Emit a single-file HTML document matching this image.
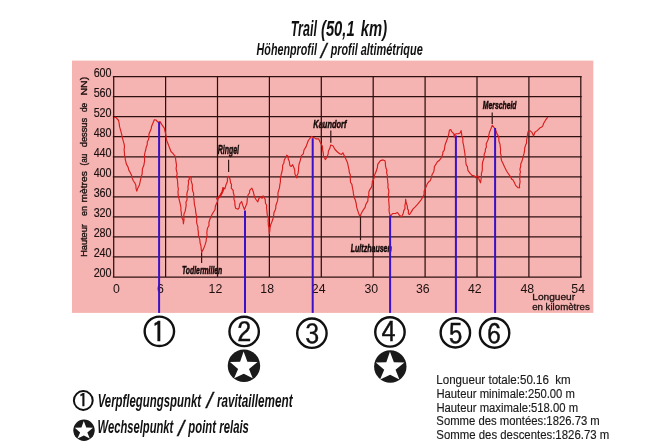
<!DOCTYPE html>
<html><head><meta charset="utf-8"><title>Trail (50,1 km)</title>
<style>
html,body{margin:0;padding:0;background:#fff;width:660px;height:446px;overflow:hidden}
svg{display:block}
.ax{font-family:"Liberation Sans",Arial,sans-serif;font-size:12px;fill:#1e1010}
.yl text{font-size:12.8px;stroke:#1e1010;stroke-width:0.15px}
.cd{font-family:"IPAGothic","Liberation Sans",sans-serif;font-size:28px;fill:#111;stroke:#111;stroke-width:0.45px}
</style></head><body>
<svg width="660" height="446" viewBox="0 0 660 446">
<rect x="0" y="0" width="660" height="446" fill="#fff"/>
<text x="290.67" y="35.60" style="font-family:'Liberation Sans',Arial,sans-serif;font-style:italic;font-weight:bold;fill:#111;font-size:21.6px" textLength="26.29" lengthAdjust="spacingAndGlyphs">Trail</text>
<text x="320.97" y="35.60" style="font-family:'Liberation Sans',Arial,sans-serif;font-style:italic;font-weight:bold;fill:#111;font-size:21.6px" textLength="33.70" lengthAdjust="spacingAndGlyphs">(50,1</text>
<text x="360.85" y="35.60" style="font-family:'Liberation Sans',Arial,sans-serif;font-style:italic;font-weight:bold;fill:#111;font-size:21.6px" textLength="26.26" lengthAdjust="spacingAndGlyphs">km)</text>
<text x="256.59" y="55.10" style="font-family:'Liberation Sans',Arial,sans-serif;font-style:italic;font-weight:bold;fill:#111;font-size:17.2px" textLength="60.31" lengthAdjust="spacingAndGlyphs">Höhenprofil</text>
<text x="320.85" y="57.53" style="font-family:'Liberation Sans',Arial,sans-serif;font-style:italic;font-weight:normal;fill:#111;stroke:#111;stroke-width:0.3px;font-size:20.5px">/</text>
<text x="330.68" y="55.10" style="font-family:'Liberation Sans',Arial,sans-serif;font-style:italic;font-weight:bold;fill:#111;font-size:17.2px" textLength="26.96" lengthAdjust="spacingAndGlyphs">profil</text>
<text x="360.73" y="55.10" style="font-family:'Liberation Sans',Arial,sans-serif;font-style:italic;font-weight:bold;fill:#111;font-size:17.2px" textLength="62.00" lengthAdjust="spacingAndGlyphs">altimétrique</text>
<rect x="72" y="60.6" width="521.3" height="252.3" fill="#f5b4b2"/>
<text x="217.74" y="153.90" style="font-family:'Liberation Sans',Arial,sans-serif;font-style:italic;font-weight:bold;fill:#140808;stroke:#140808;stroke-width:0.5px;font-size:12.5px" textLength="21.33" lengthAdjust="spacingAndGlyphs">Ringel</text>
<text x="313.36" y="127.70" style="font-family:'Liberation Sans',Arial,sans-serif;font-style:italic;font-weight:bold;fill:#140808;stroke:#140808;stroke-width:0.5px;font-size:11.5px" textLength="33.05" lengthAdjust="spacingAndGlyphs">Kaundorf</text>
<text x="181.96" y="273.80" style="font-family:'Liberation Sans',Arial,sans-serif;font-style:italic;font-weight:bold;fill:#140808;stroke:#140808;stroke-width:0.5px;font-size:11.5px" textLength="40.30" lengthAdjust="spacingAndGlyphs">Todlermillen</text>
<text x="350.76" y="252.00" style="font-family:'Liberation Sans',Arial,sans-serif;font-style:italic;font-weight:bold;fill:#140808;stroke:#140808;stroke-width:0.5px;font-size:11.8px" textLength="41.09" lengthAdjust="spacingAndGlyphs">Lultzhausen</text>
<text x="482.87" y="108.70" style="font-family:'Liberation Sans',Arial,sans-serif;font-style:italic;font-weight:bold;fill:#140808;stroke:#140808;stroke-width:0.5px;font-size:11.5px" textLength="33.66" lengthAdjust="spacingAndGlyphs">Merscheid</text>
<g stroke="#2e1010" stroke-width="1.25" fill="none">
<line x1="112.85" y1="277.00" x2="581.65" y2="277.00"/>
<line x1="112.85" y1="256.96" x2="581.65" y2="256.96"/>
<line x1="112.85" y1="236.92" x2="581.65" y2="236.92"/>
<line x1="112.85" y1="216.88" x2="581.65" y2="216.88"/>
<line x1="112.85" y1="196.84" x2="581.65" y2="196.84"/>
<line x1="112.85" y1="176.80" x2="581.65" y2="176.80"/>
<line x1="112.85" y1="156.76" x2="581.65" y2="156.76"/>
<line x1="112.85" y1="136.72" x2="581.65" y2="136.72"/>
<line x1="112.85" y1="116.68" x2="581.65" y2="116.68"/>
<line x1="112.85" y1="96.64" x2="581.65" y2="96.64"/>
<line x1="112.85" y1="76.60" x2="581.65" y2="76.60"/>
<line x1="113.70" y1="76.60" x2="113.70" y2="277.00"/>
<line x1="165.60" y1="76.60" x2="165.60" y2="277.00"/>
<line x1="217.50" y1="76.60" x2="217.50" y2="277.00"/>
<line x1="269.40" y1="76.60" x2="269.40" y2="277.00"/>
<line x1="321.30" y1="76.60" x2="321.30" y2="277.00"/>
<line x1="373.20" y1="76.60" x2="373.20" y2="277.00"/>
<line x1="425.10" y1="76.60" x2="425.10" y2="277.00"/>
<line x1="477.00" y1="76.60" x2="477.00" y2="277.00"/>
<line x1="528.90" y1="76.60" x2="528.90" y2="277.00"/>
<line x1="580.80" y1="76.60" x2="580.80" y2="277.00"/>
</g>
<g class="ax yl">
<text x="93.63" y="277.08" textLength="18.00" lengthAdjust="spacingAndGlyphs">200</text>
<text x="93.63" y="257.04" textLength="18.00" lengthAdjust="spacingAndGlyphs">240</text>
<text x="93.63" y="237.00" textLength="18.00" lengthAdjust="spacingAndGlyphs">280</text>
<text x="93.63" y="216.96" textLength="18.00" lengthAdjust="spacingAndGlyphs">320</text>
<text x="93.63" y="196.92" textLength="18.00" lengthAdjust="spacingAndGlyphs">360</text>
<text x="93.63" y="176.88" textLength="18.00" lengthAdjust="spacingAndGlyphs">400</text>
<text x="93.63" y="156.84" textLength="18.00" lengthAdjust="spacingAndGlyphs">440</text>
<text x="93.63" y="136.80" textLength="18.00" lengthAdjust="spacingAndGlyphs">480</text>
<text x="93.63" y="116.76" textLength="18.00" lengthAdjust="spacingAndGlyphs">520</text>
<text x="93.63" y="96.72" textLength="18.00" lengthAdjust="spacingAndGlyphs">560</text>
<text x="93.63" y="76.68" textLength="18.00" lengthAdjust="spacingAndGlyphs">600</text>
</g>
<text x="113.09" y="292.50" style="font-family:'Liberation Sans',Arial,sans-serif;fill:#1e1010;font-size:12.3px">0</text>
<text x="157.10" y="292.50" style="font-family:'Liberation Sans',Arial,sans-serif;fill:#1e1010;font-size:12.3px">6</text>
<text x="208.60" y="292.50" style="font-family:'Liberation Sans',Arial,sans-serif;fill:#1e1010;font-size:12.3px">12</text>
<text x="260.37" y="292.50" style="font-family:'Liberation Sans',Arial,sans-serif;fill:#1e1010;font-size:12.3px">18</text>
<text x="311.81" y="292.50" style="font-family:'Liberation Sans',Arial,sans-serif;fill:#1e1010;font-size:12.3px">24</text>
<text x="364.51" y="292.50" style="font-family:'Liberation Sans',Arial,sans-serif;fill:#1e1010;font-size:12.3px">30</text>
<text x="415.98" y="292.50" style="font-family:'Liberation Sans',Arial,sans-serif;fill:#1e1010;font-size:12.3px">36</text>
<text x="467.97" y="292.50" style="font-family:'Liberation Sans',Arial,sans-serif;fill:#1e1010;font-size:12.3px">42</text>
<text x="520.43" y="292.50" style="font-family:'Liberation Sans',Arial,sans-serif;fill:#1e1010;font-size:12.3px">48</text>
<text x="571.31" y="292.50" style="font-family:'Liberation Sans',Arial,sans-serif;fill:#1e1010;font-size:12.3px">54</text>
<text x="532.26" y="299.60" style="font-family:'Liberation Sans',Arial,sans-serif;fill:#1e1010;stroke:#1e1010;stroke-width:0.3px;font-size:9.6px" textLength="42.82" lengthAdjust="spacingAndGlyphs">Longueur</text>
<text x="532.16" y="309.90" style="font-family:'Liberation Sans',Arial,sans-serif;fill:#1e1010;stroke:#1e1010;stroke-width:0.3px;font-size:9.6px" textLength="57.58" lengthAdjust="spacingAndGlyphs">en kilomètres</text>
<g class="ax" style="font-size:9.2px;stroke:#1e1010;stroke-width:0.35px"><text transform="translate(86.6,256.8) rotate(-90)" textLength="32.7" lengthAdjust="spacingAndGlyphs">Hauteur</text><text transform="translate(86.6,216.0) rotate(-90)" textLength="10.0" lengthAdjust="spacingAndGlyphs">en</text><text transform="translate(86.6,202.4) rotate(-90)" textLength="31.2" lengthAdjust="spacingAndGlyphs">mètres</text><text transform="translate(86.6,165.5) rotate(-90)" textLength="11.6" lengthAdjust="spacingAndGlyphs">(au</text><text transform="translate(86.6,147.3) rotate(-90)" textLength="29.5" lengthAdjust="spacingAndGlyphs">dessus</text><text transform="translate(86.6,112.0) rotate(-90)" textLength="9.2" lengthAdjust="spacingAndGlyphs">de</text><text transform="translate(86.6,95.5) rotate(-90)" textLength="18.7" lengthAdjust="spacingAndGlyphs">NN)</text></g>
<polyline points="114.0,117.5 115.9,117.4 118.6,120.5 119.2,123.6 119.5,126.4 120.2,128.9 120.8,130.9 121.8,134.9 122.0,136.5 123.1,140.4 123.5,142.1 124.2,144.1 124.5,147.2 124.1,149.6 124.5,153.3 124.5,155.3 125.2,157.3 125.2,159.2 126.4,164.1 128.1,167.1 128.8,170.1 130.1,172.2 131.6,175.6 132.1,177.9 133.4,181.0 134.6,182.5 135.8,185.0 136.1,188.9 136.8,191.2 137.6,188.5 139.3,185.3 140.1,181.8 140.7,179.2 141.4,175.9 142.1,174.3 142.3,171.2 142.4,168.8 143.7,165.8 144.6,161.1 144.5,158.5 144.5,154.8 145.2,151.5 145.7,150.0 146.4,146.4 147.2,144.9 147.3,141.7 148.3,140.0 149.0,137.5 148.9,134.3 149.5,132.7 151.2,128.7 151.6,126.2 152.8,123.4 154.3,119.7 156.0,120.0 157.9,122.2 160.0,121.6 161.8,124.6 164.3,128.2 165.2,132.2 165.9,134.9 166.1,136.8 166.7,140.5 167.6,142.7 168.6,145.4 169.5,147.7 171.0,151.5 172.9,153.3 174.3,155.2 175.4,156.3 175.6,159.1 175.9,161.2 176.5,165.2 176.4,166.7 176.1,168.4 176.5,171.1 177.2,173.4 176.5,177.2 177.3,179.0 177.6,181.9 177.9,186.9 178.4,189.0 178.0,191.1 178.1,194.4 178.6,197.1 179.0,198.9 180.0,203.0 180.5,205.4 181.0,208.0 180.8,210.2 181.3,211.9 181.4,214.9 182.0,218.1 183.1,220.3 183.4,223.8 184.0,219.6 183.7,216.3 184.2,213.2 185.1,211.4 185.8,207.6 186.2,205.1 185.9,202.3 187.0,199.9 187.1,196.8 186.8,194.7 187.2,192.1 188.2,188.8 187.9,187.2 188.6,183.2 188.3,180.6 189.4,179.2 188.9,176.6 191.3,177.1 191.0,179.5 191.2,181.2 192.4,185.0 192.3,188.2 192.7,191.1 193.6,193.0 193.6,196.2 193.9,199.2 194.2,201.3 194.4,204.7 194.9,206.3 195.5,209.5 195.7,212.2 196.1,214.1 196.4,215.7 196.7,218.6 196.6,222.3 197.1,224.4 197.9,226.9 197.9,229.3 198.4,232.2 198.3,234.3 198.7,236.2 199.8,239.6 200.1,243.1 200.9,245.6 201.2,248.8 201.7,252.1 203.5,248.9 204.2,247.1 205.2,244.4 206.2,240.8 206.3,239.2 207.1,235.0 206.8,232.8 207.2,229.7 207.7,227.7 209.0,225.5 208.9,222.5 210.0,218.8 210.8,217.6 211.6,215.3 213.3,212.2 215.0,209.7 215.4,206.0 217.6,201.2 218.2,197.7 220.4,195.5 222.6,191.7 222.8,187.7 224.9,188.8 225.9,185.1 227.4,181.6 227.5,176.9 228.6,176.3 230.0,178.9 230.6,182.9 231.5,184.3 231.3,188.1 233.3,190.7 233.2,192.2 234.1,195.5 233.9,199.1 234.8,201.5 234.9,204.9 235.6,208.2 238.0,209.2 239.1,207.8 239.8,203.8 241.6,201.5 242.8,205.4 244.4,209.5 246.0,205.6 247.0,203.0 247.2,200.1 247.5,197.1 248.2,194.6 249.5,193.0 249.7,190.3 251.9,188.1 253.3,191.7 254.5,197.0 256.0,199.5 257.8,201.9 258.9,198.5 260.7,196.8 262.1,198.3 263.1,195.8 264.5,198.0 265.2,199.5 265.5,203.3 266.8,205.5 266.5,207.2 266.8,210.0 267.0,212.4 267.4,215.8 268.5,217.5 268.0,220.9 268.3,222.4 268.3,225.1 269.0,228.0 269.1,231.1 269.3,233.8 269.8,231.0 270.1,227.2 270.8,224.5 271.8,222.1 272.8,219.3 273.5,216.6 274.0,212.6 275.3,209.7 275.8,208.0 275.8,205.8 277.5,200.9 278.1,196.7 277.9,193.1 278.6,190.6 279.5,187.7 279.8,184.9 280.4,182.0 280.4,178.3 280.8,176.3 281.2,174.5 282.0,171.5 282.5,168.9 282.7,165.0 283.8,163.3 284.3,159.9 286.8,155.2 288.3,156.4 288.2,158.9 289.3,161.3 289.8,165.3 291.1,166.5 292.7,164.7 294.5,169.2 294.8,170.8 294.8,173.6 295.9,176.2 296.9,178.0 296.9,175.7 298.0,173.6 298.5,170.1 298.6,167.9 298.9,164.7 299.7,162.3 300.1,161.1 301.4,155.6 303.3,153.9 304.0,150.0 306.1,146.6 307.3,143.3 308.3,140.5 311.5,136.4 312.8,137.3 314.4,137.8 316.0,138.9 318.6,138.8 320.4,142.8 322.4,146.2 322.6,149.4 323.3,153.3 323.5,156.2 325.3,159.6 326.7,157.7 328.2,153.8 328.4,151.0 329.8,148.3 330.7,145.0 332.9,145.8 335.0,149.5 337.5,152.0 339.7,153.8 341.5,154.4 342.9,152.8 344.5,156.3 345.4,158.0 347.2,161.9 347.8,164.0 348.6,167.8 349.2,170.7 349.2,172.2 350.3,174.8 350.3,178.4 350.5,182.2 351.9,184.4 352.4,187.5 353.1,190.7 353.4,193.4 354.2,197.8 355.2,199.6 356.2,203.5 356.3,204.4 356.6,206.8 357.3,209.3 358.4,212.6 359.9,216.7 361.5,213.1 362.8,210.7 365.1,207.4 365.9,204.2 367.9,200.9 367.9,198.8 368.8,195.0 368.8,191.9 370.0,189.3 371.7,186.9 372.3,182.9 372.3,181.6 373.9,178.7 374.4,175.2 374.9,174.3 376.1,171.6 377.4,167.5 377.7,164.4 380.4,160.6 383.1,159.9 385.0,160.8 385.4,163.0 385.5,165.9 386.2,168.8 386.9,170.1 386.6,172.6 387.4,175.9 387.1,177.2 387.7,180.5 387.7,182.3 388.1,184.3 387.9,187.5 388.8,190.3 388.8,192.5 388.3,194.5 389.1,197.9 388.6,199.1 388.9,202.7 389.0,204.4 389.3,208.0 389.0,208.8 389.2,211.9 389.7,214.0 390.6,216.2 392.6,213.5 395.4,213.5 397.5,212.5 399.2,215.0 401.5,216.9 403.3,213.2 403.8,210.6 405.0,208.5 404.9,204.9 405.4,203.4 405.7,199.2 406.1,202.5 407.3,206.0 407.5,208.9 408.4,210.1 408.4,213.7 409.6,214.5 411.1,212.1 413.1,208.9 415.2,206.8 417.5,204.3 419.7,201.7 421.3,199.6 422.2,198.0 424.1,194.6 424.1,191.3 425.3,188.7 427.4,183.6 429.3,181.2 430.1,180.9 431.6,177.1 432.0,174.7 433.6,172.0 434.1,170.1 434.4,166.5 435.7,164.7 436.2,163.7 437.4,161.7 439.5,160.2 441.6,157.5 442.8,153.9 442.8,152.2 444.2,150.4 445.1,144.7 446.7,140.5 448.0,136.9 448.6,134.8 449.4,130.3 450.7,129.5 451.9,131.9 453.9,133.7 454.1,137.3 454.9,134.4 456.2,133.7 458.0,133.8 460.1,133.0 461.1,130.6 461.9,135.9 462.9,138.9 462.8,141.9 463.6,145.4 464.1,148.7 464.4,150.4 464.9,153.6 465.1,156.4 465.8,158.8 465.7,161.5 466.3,165.2 467.4,166.6 467.9,170.3 470.3,173.7 472.2,175.5 473.9,175.6 475.7,177.7 477.6,175.5 478.3,176.7 479.0,179.3 480.5,182.8 481.0,179.5 481.6,176.6 481.3,174.2 482.3,170.1 482.3,168.1 482.3,164.7 482.7,161.8 483.4,160.0 484.3,156.8 484.1,154.4 485.3,151.6 485.4,149.1 486.4,147.2 486.2,143.8 487.1,142.1 488.5,138.5 488.6,136.4 489.4,132.5 490.8,129.1 492.3,125.3 493.9,127.3 495.9,130.7 497.0,133.9 498.8,136.9 498.9,141.2 500.0,144.1 500.3,147.3 500.6,149.0 500.4,152.8 501.3,156.2 501.1,158.5 501.7,161.0 502.8,163.0 504.7,167.2 506.6,171.0 509.0,174.7 510.0,176.0 511.9,179.4 512.7,179.5 514.4,182.5 515.6,185.4 517.9,187.7 519.6,187.8 519.4,185.8 520.1,181.5 519.7,178.8 520.1,176.4 519.8,173.7 520.5,172.5 519.9,169.4 520.7,166.1 520.8,163.8 521.5,162.2 522.5,159.4 523.2,156.4 524.1,153.2 524.6,150.3 524.7,148.0 525.7,144.8 526.5,143.3 526.7,139.7 527.3,137.0 527.5,134.5 528.1,131.5 530.3,130.8 531.9,132.3 533.6,135.9 534.9,132.3 537.2,130.6 540.0,127.8 541.4,127.2 542.7,126.1 543.7,123.3 545.5,120.2 547.8,117.1" fill="none" stroke="#d81e1e" stroke-width="1.15" stroke-linejoin="round"/>
<polyline points="216.6,199.5 218.2,197.6 219.6,196.8 221,194.5 222.4,191.6 223.3,188.6 224.6,188.6" fill="none" stroke="#d81818" stroke-width="2" stroke-linejoin="round"/>
<g stroke="#3a1616" stroke-width="1.2">
<line x1="228.6" y1="159.8" x2="228.6" y2="172"/>
<line x1="330.8" y1="130.6" x2="330.8" y2="142.8"/>
<line x1="201.6" y1="252.5" x2="201.6" y2="263"/>
<line x1="360.5" y1="216.5" x2="360.5" y2="240.2"/>
<line x1="492.2" y1="112.5" x2="492.2" y2="124"/>
</g>
<g stroke="#3a10c8" stroke-width="2">
<line x1="159.1" y1="122.1" x2="159.1" y2="312.9"/>
<line x1="245" y1="210.5" x2="245" y2="312.9"/>
<line x1="312.7" y1="138.2" x2="312.7" y2="312.9"/>
<line x1="390.1" y1="215.5" x2="390.1" y2="312.9"/>
<line x1="455.9" y1="135.5" x2="455.9" y2="312.9"/>
<line x1="495.1" y1="128" x2="495.1" y2="312.9"/>
</g>
<g stroke="#111" stroke-width="2.4" fill="none">
<circle cx="159.35" cy="331.35" r="14.7"/>
<text x="158.5" y="342.1" text-anchor="middle" class="cd">1</text>
<circle cx="244.15" cy="331.45" r="14.7"/>
<text x="244.3" y="342.1" text-anchor="middle" class="cd">2</text>
<circle cx="311.9" cy="333.2" r="14.7"/>
<text x="312.3" y="344.2" text-anchor="middle" class="cd">3</text>
<circle cx="389.95" cy="331.95" r="14.7"/>
<text x="388.6" y="342.1" text-anchor="middle" class="cd">4</text>
<circle cx="455.35" cy="332.8" r="14.7"/>
<text x="455.6" y="344.2" text-anchor="middle" class="cd">5</text>
<circle cx="494.6" cy="333.0" r="14.7"/>
<text x="494.0" y="344.2" text-anchor="middle" class="cd">6</text>
</g>
<circle cx="243.95" cy="365.7" r="16.2" fill="#1a1a1a"/>
<polygon points="243.60,351.60 247.40,361.70 257.50,362.10 249.00,369.00 252.70,378.30 243.80,373.80 234.10,378.30 238.10,369.00 230.00,362.10 240.10,361.70" fill="#fff"/>
<circle cx="390.3" cy="366.5" r="16.2" fill="#1a1a1a"/>
<polygon points="389.94,351.64 393.89,362.14 404.39,362.56 395.55,369.73 399.40,379.40 390.14,374.72 380.06,379.40 384.22,369.73 375.79,362.56 386.30,362.14" fill="#fff"/>
<circle cx="83.3" cy="400.5" r="9.4" fill="none" stroke="#111" stroke-width="2"/>
<text x="83.1" y="407.2" text-anchor="middle" style="font-family:'IPAGothic','Liberation Sans',sans-serif;font-size:18.5px;fill:#111;stroke:#111;stroke-width:0.45px">1</text>
<circle cx="84" cy="430.2" r="10.7" fill="#1a1a1a"/>
<polygon points="83.77,420.89 86.28,427.56 92.95,427.82 87.34,432.38 89.78,438.52 83.90,435.55 77.49,438.52 80.14,432.38 74.79,427.82 81.46,427.56" fill="#fff"/>
<text x="97.64" y="406.80" style="font-family:'Liberation Sans',Arial,sans-serif;font-style:italic;font-weight:bold;fill:#111;font-size:19px" textLength="103.39" lengthAdjust="spacingAndGlyphs">Verpflegungspunkt</text>
<text x="206.54" y="408.21" style="font-family:'Liberation Sans',Arial,sans-serif;font-style:italic;font-weight:normal;fill:#111;stroke:#111;stroke-width:0.3px;font-size:22px">/</text>
<text x="216.90" y="406.80" style="font-family:'Liberation Sans',Arial,sans-serif;font-style:italic;font-weight:bold;fill:#111;font-size:19px" textLength="75.74" lengthAdjust="spacingAndGlyphs">ravitaillement</text>
<text x="97.60" y="433.40" style="font-family:'Liberation Sans',Arial,sans-serif;font-style:italic;font-weight:bold;fill:#111;font-size:18.6px" textLength="75.73" lengthAdjust="spacingAndGlyphs">Wechselpunkt</text>
<text x="178.06" y="436.39" style="font-family:'Liberation Sans',Arial,sans-serif;font-style:italic;font-weight:normal;fill:#111;stroke:#111;stroke-width:0.3px;font-size:22px">/</text>
<text x="188.37" y="433.40" style="font-family:'Liberation Sans',Arial,sans-serif;font-style:italic;font-weight:bold;fill:#111;font-size:18.6px" textLength="27.58" lengthAdjust="spacingAndGlyphs">point</text>
<text x="219.29" y="433.40" style="font-family:'Liberation Sans',Arial,sans-serif;font-style:italic;font-weight:bold;fill:#111;font-size:18.6px" textLength="29.63" lengthAdjust="spacingAndGlyphs">relais</text>
<text x="436.32" y="384.00" style="font-family:'Liberation Sans',Arial,sans-serif;fill:#1a1a1a;stroke:#1a1a1a;stroke-width:0.15px;font-size:12px" textLength="134.44" lengthAdjust="spacingAndGlyphs">Longueur totale:50.16  km</text>
<text x="436.39" y="398.10" style="font-family:'Liberation Sans',Arial,sans-serif;fill:#1a1a1a;stroke:#1a1a1a;stroke-width:0.15px;font-size:12px" textLength="138.52" lengthAdjust="spacingAndGlyphs">Hauteur minimale:250.00 m</text>
<text x="436.39" y="411.70" style="font-family:'Liberation Sans',Arial,sans-serif;fill:#1a1a1a;stroke:#1a1a1a;stroke-width:0.15px;font-size:12px" textLength="141.71" lengthAdjust="spacingAndGlyphs">Hauteur maximale:518.00 m</text>
<text x="436.36" y="425.40" style="font-family:'Liberation Sans',Arial,sans-serif;fill:#1a1a1a;stroke:#1a1a1a;stroke-width:0.15px;font-size:12px" textLength="163.43" lengthAdjust="spacingAndGlyphs">Somme des montées:1826.73 m</text>
<text x="436.32" y="439.00" style="font-family:'Liberation Sans',Arial,sans-serif;fill:#1a1a1a;stroke:#1a1a1a;stroke-width:0.15px;font-size:12px" textLength="172.90" lengthAdjust="spacingAndGlyphs">Somme des descentes:1826.73 m</text>
</svg>
</body></html>
